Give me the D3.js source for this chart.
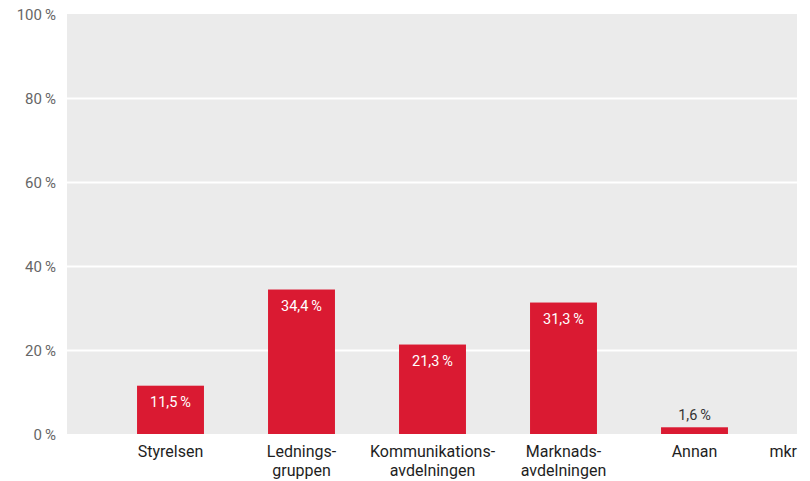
<!DOCTYPE html>
<html>
<head>
<meta charset="utf-8">
<script src="https://cdn.jsdelivr.net/npm/d3@7"></script>
<style>
  html, body { margin: 0; padding: 0; background: #fff; }
  svg { display: block; }
  text { font-family: Roboto, "Open Sans", sans-serif; }
</style>
</head>
<body>
<svg id="chart" width="810" height="481"></svg>
<script>
// Fördelning per funktion (andel i procent)
const categories = [
  ["Styrelsen"],
  ["Lednings-", "gruppen"],
  ["Kommunikations-", "avdelningen"],
  ["Marknads-", "avdelningen"],
  ["Annan"]
];
const values = [11.5, 34.4, 21.3, 31.3, 1.6];
const valueLabels = ["11,5\u2009%", "34,4\u2009%", "21,3\u2009%", "31,3\u2009%", "1,6\u2009%"];
const yTicks = [0, 20, 40, 60, 80, 100];
const unitLabel = "mkr";

const svg = d3.select("#chart");
const plot = { left: 67, right: 797, top: 14, bottom: 434 };

const x = d3.scaleBand()
  .domain(d3.range(categories.length))
  .range([105, 760])
  .paddingInner(0.489)
  .paddingOuter(0.2445);

const y = d3.scaleLinear().domain([0, 100]).range([plot.bottom, plot.top]);

// plot background
svg.append("rect")
  .attr("x", plot.left).attr("y", plot.top)
  .attr("width", plot.right - plot.left).attr("height", plot.bottom - plot.top)
  .attr("fill", "#ebebeb");

// horizontal grid lines
svg.append("g").selectAll("line")
  .data(yTicks.filter(d => d > 0 && d < 100))
  .join("line")
  .attr("x1", plot.left).attr("x2", plot.right)
  .attr("y1", d => Math.round(y(d)) + 0.5).attr("y2", d => Math.round(y(d)) + 0.5)
  .attr("stroke", "#fff").attr("stroke-width", 2);

// y axis labels
const yAxis = d3.axisLeft(y).tickValues(yTicks).tickSize(0).tickPadding(0)
  .tickFormat(d => d + "\u2009%");
svg.append("g")
  .attr("transform", `translate(56,0)`)
  .call(yAxis)
  .call(g => g.select(".domain").remove())
  .call(g => g.selectAll("text")
    .attr("fill", "#666").attr("font-size", 15).attr("dy", "0.35em")
    .style("font-family", "Roboto, sans-serif"));

// bars
svg.append("g").selectAll("rect")
  .data(values)
  .join("rect")
  .attr("x", (d, i) => x(i))
  .attr("width", x.bandwidth())
  .attr("y", d => y(d))
  .attr("height", d => y(0) - y(d))
  .attr("fill", "#da1a32");

// value labels: inside tall bars, above short ones
svg.append("g").selectAll("text")
  .data(values)
  .join("text")
  .attr("x", (d, i) => x(i) + x.bandwidth() / 2)
  .attr("y", d => (y(0) - y(d) > 30) ? y(d) + 21 : y(d) - 7)
  .attr("text-anchor", "middle")
  .attr("font-size", 14.5)
  .attr("fill", d => (y(0) - y(d) > 30) ? "#fff" : "#333")
  .text((d, i) => valueLabels[i]);

// category labels
const cat = svg.append("g").selectAll("text")
  .data(categories)
  .join("text")
  .attr("x", (d, i) => x(i) + x.bandwidth() / 2)
  .attr("y", 457)
  .attr("text-anchor", "middle")
  .attr("font-size", 16)
  .attr("fill", "#1e1e1e");
cat.selectAll("tspan")
  .data(d => d)
  .join("tspan")
  .attr("x", function () { return d3.select(this.parentNode).attr("x"); })
  .attr("dy", (d, i) => i === 0 ? 0 : 19)
  .text(d => d);

// unit label at the right end of the axis
svg.append("text")
  .attr("x", plot.right).attr("y", 457)
  .attr("text-anchor", "end")
  .attr("font-size", 16).attr("fill", "#1e1e1e")
  .text(unitLabel);
</script>
</body>
</html>
